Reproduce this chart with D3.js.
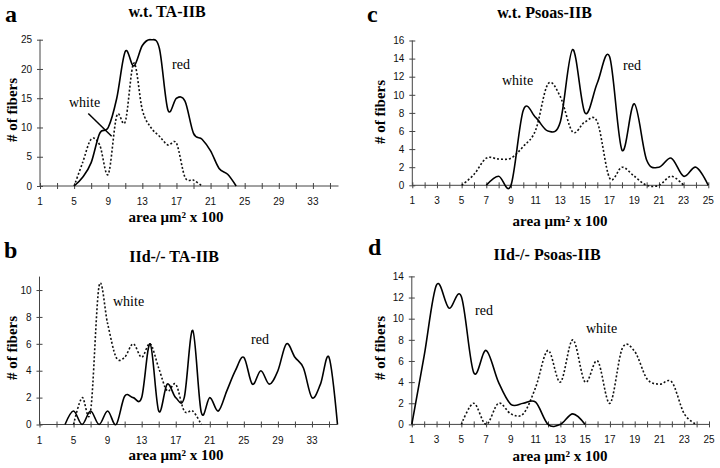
<!DOCTYPE html>
<html><head><meta charset="utf-8">
<script src="https://cdn.jsdelivr.net/npm/d3@7"></script>
<style>
html,body{margin:0;padding:0;background:#fff;}
svg{display:block;}
</style></head>
<body>
<svg id="chart" width="720" height="468"></svg>
<script>
// ---- data ----
// panel a: w.t. TA-IIB
const aRedStart = 5;
const aRed   = [0, 1.5, 4, 9, 10, 15, 23, 20.5, 24, 25, 23.5, 13, 15, 14.5, 9, 8, 6, 3, 2, 0];
const aWhiteStart = 5;
const aWhite = [0, 4, 8, 7, 2, 12, 11, 21, 13, 10, 8.5, 7, 7.3, 1.5, 1, 0];
// panel b: IId-/- TA-IIB
const bRedStart = 4;
const bRed   = [0, 1, 0, 1, 0, 1, 0, 2.1, 2, 2, 6, 1, 3, 2, 2, 7, 0.9, 2, 1, 2.5, 4, 5, 3, 4, 3, 4, 6, 5, 4.2, 2, 3, 5, 0];
const bWhiteStart = 5;
const bWhite = [0, 2, 1, 10.3, 7.5, 5, 5, 6, 5, 6, 4.2, 2.5, 3, 1, 1, 0];
// panel c: w.t. Psoas-IIB
const cRedStart = 7;
const cRed   = [0, 1, 0, 8.3, 7.5, 6, 7, 15, 8, 11.3, 14.2, 3.9, 9, 2.8, 2, 3, 1, 2, 0];
const cWhiteStart = 5;
const cWhite = [0, 1.2, 3, 2.9, 3, 4.3, 6.1, 11.2, 9.8, 5.9, 7, 7, 0.8, 2, 1, 0, 0, 1, 0];
// panel d: IId-/- Psoas-IIB
const dRedStart = 1;
const dRed   = [0, 6.5, 13.2, 11, 12.1, 4.9, 7, 4, 1.9, 2, 2.1, 0, 0, 1, 0];
const dWhiteStart = 5;
const dWhite = [0, 2, 0, 2, 1, 1, 3.5, 7, 4, 8, 4, 6, 2, 7.2, 6.9, 4.3, 3.8, 4, 1, 0];

// tick labels
const xLabelsWide   = [1, 5, 9, 13, 17, 21, 25, 29, 33];
const xLabelsNarrow = [1, 3, 5, 7, 9, 11, 13, 15, 17, 19, 21, 23, 25];
const yTicksA = [0, 5, 10, 15, 20, 25];
const yTicksB = [0, 2, 4, 6, 8, 10];
const yTicksC = [0, 2, 4, 6, 8, 10, 12, 14, 16];
const yTicksD = [0, 2, 4, 6, 8, 10, 12, 14];
const titles  = ["w.t. TA-IIB", "IId-/- TA-IIB", "w.t. Psoas-IIB", "IId-/- Psoas-IIB"];
const letters = ["a", "b", "c", "d"];
const xTitle = "area \u03bcm\u00b2 x 100";
const yTitle = "# of fibers";

const toPts = (start, arr) => arr.map((v, i) => [start + i, v]);
const range = (a, b, s) => d3.range(a, b + 0.001, s);

// ---- layout ----
const panels = [
  { letter: letters[0], title: titles[0], xDom: [1, 36], xR: [40, 338.5], yDom: [0, 25], yR: [186, 39.7],
    yTicks: yTicksA, xLabels: xLabelsWide, xTicks: range(1, 35, 2),
    red: toPts(aRedStart, aRed), white: toPts(aWhiteStart, aWhite),
    letterPos: [5, 22], titleX: 167, titleY: 17, yTitleX: 17, yTitleY: 110, xTitleX: 176, xTitleY: 222,
    notes: [{t: "red", x: 172, y: 69}, {t: "white", x: 69, y: 106.5}],
    pointer: [[6.66, 12.4], [9.4, 8.5]] },
  { letter: letters[1], title: titles[1], xDom: [1, 36], xR: [39.5, 337.5], yDom: [0, 11], yR: [424.5, 276.6],
    yTicks: yTicksB, xLabels: xLabelsWide, xTicks: range(1, 35, 2),
    red: toPts(bRedStart, bRed), white: toPts(bWhiteStart, bWhite),
    letterPos: [4, 258], titleX: 174, titleY: 262, yTitleX: 17, yTitleY: 348, xTitleX: 176, xTitleY: 460,
    notes: [{t: "white", x: 113, y: 306}, {t: "red", x: 251, y: 344}] },
  { letter: letters[2], title: titles[2], xDom: [1, 25], xR: [412.3, 708.3], yDom: [0, 16], yR: [185.3, 40.5],
    yTicks: yTicksC, xLabels: xLabelsNarrow, xTicks: range(1, 25, 1),
    red: toPts(cRedStart, cRed), white: toPts(cWhiteStart, cWhite),
    letterPos: [367, 22], titleX: 544.5, titleY: 18, yTitleX: 385, yTitleY: 112, xTitleX: 560, xTitleY: 226,
    notes: [{t: "white", x: 502, y: 85}, {t: "red", x: 623, y: 70}] },
  { letter: letters[3], title: titles[3], xDom: [1, 25], xR: [411.8, 709], yDom: [0, 14], yR: [424.4, 276.4],
    yTicks: yTicksD, xLabels: xLabelsNarrow, xTicks: range(1, 25, 1),
    red: toPts(dRedStart, dRed), white: toPts(dWhiteStart, dWhite),
    letterPos: [368, 255], titleX: 547, titleY: 260, yTitleX: 385, yTitleY: 348, xTitleX: 560, xTitleY: 461,
    notes: [{t: "red", x: 475, y: 314.5}, {t: "white", x: 586, y: 333}] }
];

const svg = d3.select("#chart");
const serif = "'Liberation Serif','Times New Roman',serif";
const sans = "'Liberation Sans',Arial,sans-serif";
const axisColor = "#444";

panels.forEach(p => {
  const x = d3.scaleLinear().domain(p.xDom).range(p.xR);
  const y = d3.scaleLinear().domain(p.yDom).range(p.yR);
  const g = svg.append("g");

  // x axis
  const xAxis = d3.axisBottom(x).tickValues(p.xTicks).tickSize(0).tickFormat("");
  const gx = g.append("g").attr("transform", `translate(0,${p.yR[0]})`).call(xAxis);
  gx.select(".domain").attr("stroke", axisColor).attr("d", `M${p.xR[0]},0H${p.xR[1]}`);
  gx.selectAll(".tick line").attr("stroke", axisColor).attr("y1", -3).attr("y2", 3);
  g.append("g").selectAll("text").data(p.xLabels).join("text")
    .attr("x", d => x(d)).attr("y", p.yR[0] + 19)
    .attr("text-anchor", "middle").attr("font-family", sans).attr("font-size", 10).attr("fill", "#111")
    .text(d => d);

  // y axis
  const yAxis = d3.axisLeft(y).tickValues(p.yTicks).tickSize(0).tickPadding(8);
  const gy = g.append("g").attr("transform", `translate(${p.xR[0]},0)`).call(yAxis);
  gy.select(".domain").attr("stroke", axisColor).attr("d", `M0,${p.yR[0]}V${p.yR[1]}`);
  gy.selectAll(".tick line").attr("stroke", axisColor).attr("x1", -3).attr("x2", 3);
  gy.selectAll(".tick text").attr("font-family", sans).attr("font-size", 10).attr("fill", "#111");

  // lines
  const line = d3.line().x(d => x(d[0])).y(d => y(d[1])).curve(d3.curveCardinal.tension(0));
  g.append("path").datum(p.white).attr("d", line).attr("fill", "none")
    .attr("stroke", "#111").attr("stroke-width", 1.6).attr("stroke-dasharray", "2,2");
  g.append("path").datum(p.red).attr("d", line).attr("fill", "none")
    .attr("stroke", "#000").attr("stroke-width", 1.6);

  if (p.pointer) {
    g.append("line")
      .attr("x1", x(p.pointer[0][0])).attr("y1", y(p.pointer[0][1]))
      .attr("x2", x(p.pointer[1][0])).attr("y2", y(p.pointer[1][1]))
      .attr("stroke", "#000").attr("stroke-width", 1.5);
  }

  // annotations
  p.notes.forEach(n => {
    g.append("text").attr("x", n.x).attr("y", n.y).attr("font-family", serif)
      .attr("font-size", 14).attr("fill", "#000").text(n.t);
  });

  // titles
  g.append("text").attr("x", p.letterPos[0]).attr("y", p.letterPos[1])
    .attr("font-family", serif).attr("font-weight", "bold").attr("font-size", 24).text(p.letter);
  g.append("text").attr("x", p.titleX).attr("y", p.titleY).attr("text-anchor", "middle")
    .attr("font-family", serif).attr("font-weight", "bold").attr("font-size", 16).text(p.title);
  g.append("text").attr("x", p.xTitleX).attr("y", p.xTitleY).attr("text-anchor", "middle")
    .attr("font-family", serif).attr("font-weight", "bold").attr("font-size", 15).text(xTitle);
  g.append("text").attr("transform", `translate(${p.yTitleX},${p.yTitleY}) rotate(-90)`)
    .attr("text-anchor", "middle")
    .attr("font-family", serif).attr("font-weight", "bold").attr("font-size", 15).text(yTitle);
});
</script>
</body></html>
